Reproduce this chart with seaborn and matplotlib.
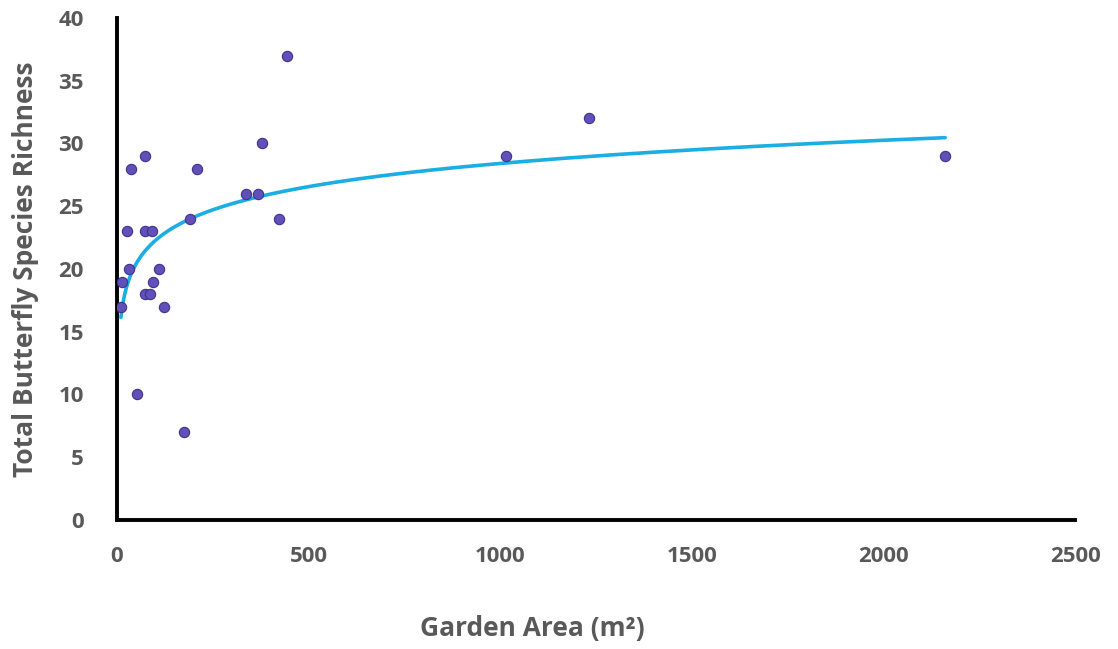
import numpy as np
import pandas as pd
import matplotlib
matplotlib.use('Agg')
import matplotlib.pyplot as plt
import seaborn as sns

# garden area (m2) and total butterfly species richness
garden_area = [36, 74, 208, 444, 379, 337, 369, 190, 423, 25, 73, 90,
               31, 110, 14, 95, 73, 86, 10, 122, 52, 176, 1015, 1232, 2161]
richness = [28, 29, 28, 37, 30, 26, 26, 24, 24, 23, 23, 23,
            20, 20, 19, 19, 18, 18, 17, 17, 10, 7, 29, 32, 29]

x_ticks = [0, 500, 1000, 1500, 2000, 2500]
y_ticks = [0, 5, 10, 15, 20, 25, 30, 35, 40]

df = pd.DataFrame({'area': garden_area, 'richness': richness})

# logarithmic trendline (as in Excel)
slope, intercept = np.polyfit(np.log(df['area']), df['richness'], 1)
trend = pd.DataFrame({'area': np.geomspace(df['area'].min(), df['area'].max(), 300)})
trend['richness'] = slope * np.log(trend['area']) + intercept

sns.set_style('white')
plt.rcParams['font.family'] = ['Open Sans', 'DejaVu Sans']

fig = plt.figure(figsize=(11.18, 6.49), dpi=100)
ax = fig.add_axes([0.1047, 0.1988, 0.8569, 0.7735])

sns.lineplot(data=trend, x='area', y='richness', color='#1AAEE2', linewidth=2.6, ax=ax, zorder=2)
sns.scatterplot(data=df, x='area', y='richness', color='#6050B8', edgecolor='#3E3290',
                linewidth=0.8, s=55, ax=ax, zorder=3)

ax.set_xlim(0, 2500)
ax.set_ylim(0, 40)
ax.set_xticks(x_ticks)
ax.set_yticks(y_ticks)

grey = '#595959'
ax.tick_params(axis='both', length=0, labelsize=16, labelcolor=grey)
ax.tick_params(axis='x', pad=19)
ax.tick_params(axis='y', pad=24)
for lab in ax.get_xticklabels() + ax.get_yticklabels():
    lab.set_fontweight('bold')

ax.set_xlabel('Garden Area (m²)', fontsize=19, fontweight='bold', color=grey)
ax.xaxis.set_label_coords(0.433, -0.19)
ax.set_ylabel('Total Butterfly Species Richness', fontsize=19, fontweight='bold', color=grey)
ax.yaxis.set_label_coords(-0.081, 0.5)

for side in ['top', 'right']:
    ax.spines[side].set_visible(False)
for side in ['left', 'bottom']:
    ax.spines[side].set_color('black')
    ax.spines[side].set_linewidth(2.8)

plt.savefig('out.png', dpi=100)
